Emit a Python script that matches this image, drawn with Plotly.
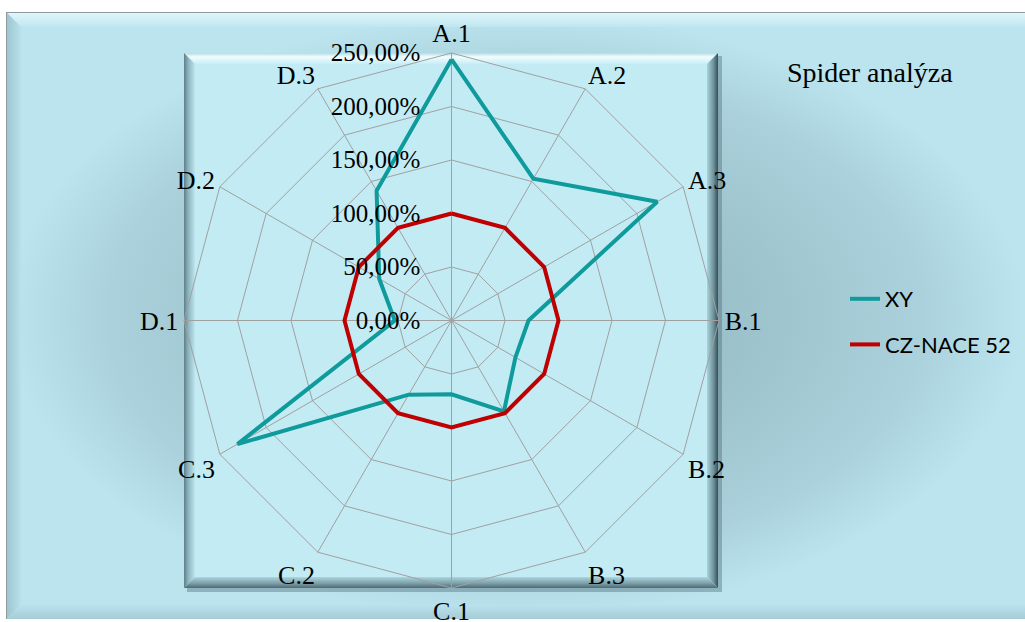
import plotly.graph_objects as go

# Spider chart data
categories = ["A.1", "A.2", "A.3", "B.1", "B.2", "B.3",
              "C.1", "C.2", "C.3", "D.1", "D.2", "D.3"]
xy_values = [244, 153, 222, 72, 69, 98, 69, 80, 231, 53, 78, 140]
nace_values = [100, 100, 100, 100, 100, 100, 100, 100, 100, 100, 100, 100]
radial_ticks = [0, 50, 100, 150, 200, 250]
radial_labels = ["0,00%", "50,00%", "100,00%", "150,00%", "200,00%", "250,00%"]

W, H = 1025, 622
SERIF = "Liberation Serif, Times New Roman, serif"

fig = go.Figure()


def panel(xs, ys, color=None, gradient=None):
    """Filled polygon in pixel space used for the frame decoration."""
    kw = dict(x=xs + [xs[0]], y=ys + [ys[0]], mode="lines", fill="toself",
              line=dict(width=0), hoverinfo="skip", showlegend=False,
              xaxis="x", yaxis="y")
    if gradient is not None:
        kw["fillgradient"] = gradient
        kw["fillcolor"] = gradient["colorscale"][0][1]
    else:
        kw["fillcolor"] = color
    fig.add_trace(go.Scatter(**kw))


# outer chart area
ox0, oy0, ox1, oy1 = 7, 13, 1025, 619
panel([ox0 - 1, ox1, ox1, ox0 - 1], [oy0 - 1, oy0 - 1, oy1, oy1], color="#8c9a9e")
panel([ox0, ox1, ox1, ox0], [oy0, oy0, oy1, oy1],
      gradient=dict(type="radial",
                    colorscale=[[0, "#8db2bd"], [0.5, "#9ec4ce"], [0.8, "#abd2dc"],
                                [1, "#bbe4ee"]]))
b = 14
panel([ox0, ox1, ox1, ox0 + b], [oy0, oy0, oy0 + b, oy0 + b],
      gradient=dict(type="vertical", start=oy0, stop=oy0 + b,
                    colorscale=[[0, "#dff6fb"], [1, "#bfe6f0"]]))
panel([ox0, ox0 + b, ox0 + b, ox0], [oy0, oy0 + b, oy1 - b, oy1],
      gradient=dict(type="horizontal", start=ox0, stop=ox0 + b,
                    colorscale=[[0, "#9ec6d1"], [1, "#b8e1eb"]]))
panel([ox0, ox0 + b, ox1, ox1], [oy1, oy1 - b, oy1 - b, oy1],
      gradient=dict(type="vertical", start=oy1 - b, stop=oy1,
                    colorscale=[[0, "#b9e2ec"], [1, "#a6ccd6"]]))

# inner plot square with bevelled edges
ix0, iy0, ix1, iy1 = 184, 53, 718, 588
panel([ix0 + 3, ix1 + 4, ix1 + 4, ix0 + 3], [iy0 + 3, iy0 + 3, iy1 + 4, iy1 + 4],
      color="rgba(60,90,100,0.35)")
panel([ix0, ix1, ix1, ix0], [iy0, iy0, iy1, iy1], color="#c3ebf4")
e = 11
panel([ix0, ix1, ix1 - e, ix0 + e], [iy0, iy0, iy0 + e, iy0 + e],
      gradient=dict(type="vertical", start=iy0, stop=iy0 + e,
                    colorscale=[[0, "#b2dce6"], [0.35, "#f2fdff"], [1, "#c6eef6"]]))
panel([ix0, ix0 + e, ix0 + e, ix0], [iy0, iy0 + e, iy1 - e, iy1],
      gradient=dict(type="horizontal", start=ix0, stop=ix0 + e,
                    colorscale=[[0, "#5f7f88"], [0.4, "#8fb6c0"], [1, "#bde6ef"]]))
panel([ix1, ix1, ix1 - e, ix1 - e], [iy0, iy1, iy1 - e, iy0 + e],
      gradient=dict(type="horizontal", start=ix1 - e, stop=ix1,
                    colorscale=[[0, "#aad3dd"], [0.6, "#6f919a"], [1, "#34505a"]]))
panel([ix0, ix1, ix1 - e, ix0 + e], [iy1, iy1, iy1 - e, iy1 - e],
      gradient=dict(type="vertical", start=iy1 - e, stop=iy1,
                    colorscale=[[0, "#acd6e0"], [0.6, "#7a9ca5"], [1, "#4d6a73"]]))

# radar series
fig.add_trace(go.Scatterpolar(
    r=xy_values + xy_values[:1], theta=categories + categories[:1],
    mode="lines", name="XY", line=dict(color="#0f9b9b", width=4),
    legendgroup="xy", subplot="polar"))
fig.add_trace(go.Scatterpolar(
    r=nace_values + nace_values[:1], theta=categories + categories[:1],
    mode="lines", name="CZ-NACE 52", line=dict(color="#c00000", width=4),
    legendgroup="nace", subplot="polar"))

cx, cy, R = 451.5, 320.5, 267.5
fig.update_layout(
    width=W, height=H,
    margin=dict(l=0, r=0, t=0, b=0),
    paper_bgcolor="white",
    plot_bgcolor="rgba(0,0,0,0)",
    xaxis=dict(range=[0, W], domain=[0, 1], visible=False, fixedrange=True),
    yaxis=dict(range=[H, 0], domain=[0, 1], visible=False, fixedrange=True),
    polar=dict(
        domain=dict(x=[(cx - R) / W, (cx + R) / W],
                    y=[(H - cy - R) / H, (H - cy + R) / H]),
        bgcolor="rgba(0,0,0,0)",
        gridshape="linear",
        angularaxis=dict(
            type="category", categoryorder="array", categoryarray=categories,
            direction="clockwise", rotation=90,
            showline=True, linecolor="#a0a0a0", linewidth=1,
            gridcolor="#a0a0a0", gridwidth=1, ticks="",
            tickfont=dict(family=SERIF, size=26, color="black"),
        ),
        radialaxis=dict(
            range=[0, 250], tickvals=radial_ticks, ticktext=radial_labels,
            angle=90, tickangle=90, side="counterclockwise",
            showline=False, gridcolor="#a0a0a0", gridwidth=1,
            ticks="outside", ticklen=22, tickcolor="rgba(0,0,0,0)",
            tickfont=dict(family=SERIF, size=25, color="black"),
        ),
    ),
    title=dict(text="Spider analýza", x=787 / W, xanchor="left",
               y=1 - 72 / H, yanchor="middle",
               font=dict(family=SERIF, size=28, color="black")),
    legend=dict(x=845 / W, xanchor="left", y=1 - 278 / H, yanchor="top",
                bgcolor="rgba(0,0,0,0)", tracegroupgap=14,
                font=dict(family="Lato, Carlito, sans-serif", size=22, color="black")),
    showlegend=True,
)

fig.write_html("out.html")
